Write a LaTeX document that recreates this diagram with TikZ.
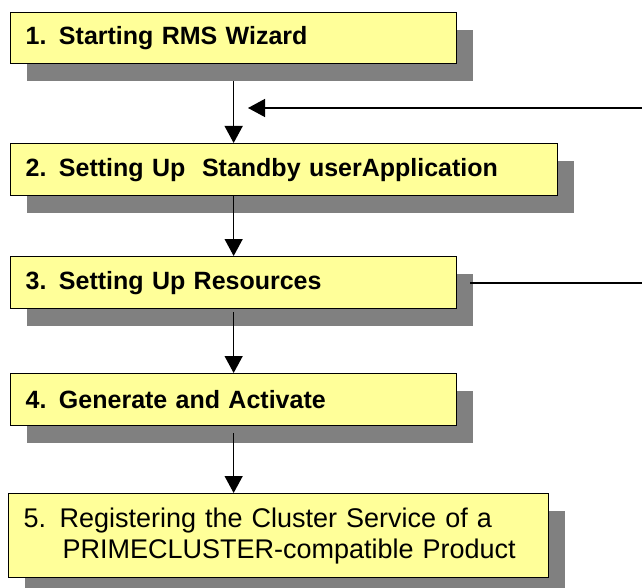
\documentclass[tikz,border=0pt]{standalone}
\usepackage{fontspec}
\setmainfont{Liberation Sans}
\usetikzlibrary{arrows.meta,positioning,shadows}
\definecolor{cY}{HTML}{FFFF99}
\definecolor{cS}{HTML}{808080}
\tikzset{
  stepbox/.style={draw=black,line width=1.3pt,fill=cY,anchor=north west,
    inner xsep=15pt,inner ysep=0pt,align=left,text width=#1-30pt,
    drop shadow={shadow xshift=16pt,shadow yshift=-17pt,fill=cS,opacity=1},
    font=\bfseries\fontsize{25}{30}\selectfont},
  flow/.style={-{Triangle[length=17pt,width=18pt]},line width=1.3pt},
  back/.style={line width=1.3pt},
}

\begin{document}
\begin{tikzpicture}[x=1pt,y=-1pt]
  \useasboundingbox (0,0) rectangle (642,588);
  \clip (0,0) rectangle (642,588);
  % steps
  \node[stepbox=446pt,minimum height=51pt](b1) at (10,12){1. Starting RMS Wizard};
  \node[stepbox=547pt,minimum height=52pt](b2) at (10,143){2. Setting Up\ \ Standby userApplication};
  \node[stepbox=446pt,minimum height=52pt](b3) at (10,256){3. Setting Up Resources};
  \node[stepbox=446pt,minimum height=52pt](b4) at (10,373){4. Generate and Activate};
  \node[stepbox=540pt,minimum height=84pt,font=\fontsize{27}{31}\selectfont](b5) at (8,493)
    {5. Registering the Cluster Service of a\\\hspace*{39pt}PRIMECLUSTER-compatible Product};
  % flow
  \draw[flow,shorten <=17pt] (b1.south) -- (b1.south |- b2.north);
  \draw[flow] (b2.south -| b3.north) -- (b3.north);
  \draw[flow,shorten <=3pt] (b3.south) -- (b4.north);
  \draw[flow,shorten <=7pt] (b4.south) -- (b4.south |- b5.north);
  % back to step 2
  \coordinate (edgeA) at (642,283);
  \coordinate (edgeB) at (642,108);
  \coordinate (retry) at (248,108);
  \draw[back,shorten <=13pt] (b3.east |- edgeA) -- (edgeA);
  \draw[flow] (edgeB) -- (retry);
\end{tikzpicture}
\end{document}
